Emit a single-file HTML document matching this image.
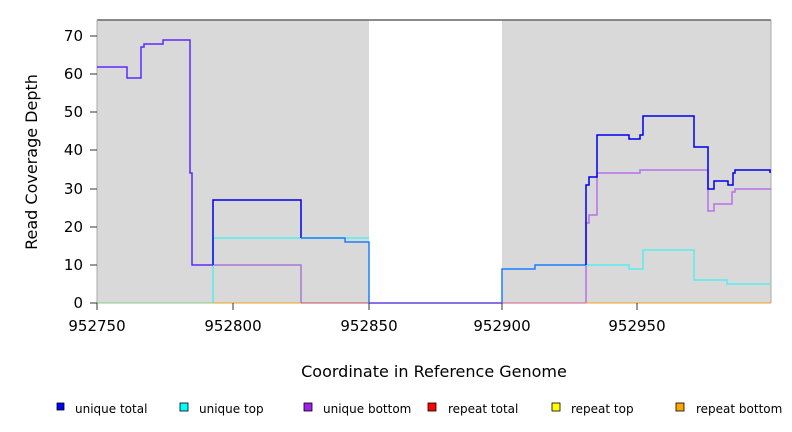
<!DOCTYPE html>
<html><head><meta charset="utf-8"><style>body{margin:0;background:#fff}svg{display:block;font-family:"DejaVu Sans","Liberation Sans",sans-serif}</style></head><body>
<svg width="792" height="432" viewBox="0 0 792 432">
<rect x="97" y="20" width="272" height="283" fill="#d9d9d9"/>
<rect x="502" y="20" width="269" height="283" fill="#d9d9d9"/>
<line x1="97" y1="20" x2="771" y2="20" stroke="#666" stroke-width="1.5"/>
<line x1="771" y1="20" x2="771" y2="303" stroke="#aaa" stroke-width="1"/>
<line x1="97" y1="20" x2="97" y2="303" stroke="#aaa" stroke-width="1"/>
<g fill="none" stroke-width="1.5">
<polyline stroke="#b870ee" points="586,303 586,223 589,223 589,215 597,215 597,173 640,173 640,170 708,170 708,211 714,211 714,204 732,204 732,192 735,192 735,189 771,189"/>
<polyline stroke="#a878d8" points="213,265 301,265 301,303"/>
<polyline stroke="#55eeee" points="213,303 213,238 369,238"/>
<polyline stroke="#55eeee" points="586,265 629,265 629,269 643,269 643,250 694,250 694,280 727,280 727,284 771,284"/>
<polyline stroke="#0000ee" points="213,265 213,200 301,200 301,238"/>
<polyline stroke="#1a7fff" points="301,238 345,238 345,242 369,242 369,303"/>
<polyline stroke="#1a7fff" points="502,303 502,269 535,269 535,265 586,265"/>
<polyline stroke="#0000ee" points="586,265 586,185 589,185 589,177 597,177 597,135 629,135 629,139 640,139 640,135 643,135 643,116 694,116 694,147 708,147 708,189 714,189 714,181 728,181 728,185 733,185 733,173 735,173 735,170 770,170 770,173"/>
<polyline stroke="#5a2aff" points="97,67 127,67 127,78 141,78 141,47 144,47 144,44 163,44 163,40 190,40 190,173 192,173 192,265 213,265"/>
<line x1="369" y1="303" x2="502" y2="303" stroke="#6040e0"/>
<line x1="97" y1="303" x2="213" y2="303" stroke="#88cc88" stroke-width="1"/>
<line x1="213" y1="303" x2="301" y2="303" stroke="#f0a020" stroke-width="1"/>
<line x1="301" y1="303" x2="369" y2="303" stroke="#c05060" stroke-width="1"/>
<line x1="502" y1="303" x2="586" y2="303" stroke="#d06080" stroke-width="1"/>
<line x1="586" y1="303" x2="771" y2="303" stroke="#f0a020" stroke-width="1"/>
</g>
<g stroke="#333" stroke-width="1">
<line x1="90" y1="303" x2="97" y2="303"/><line x1="90" y1="265" x2="97" y2="265"/><line x1="90" y1="227" x2="97" y2="227"/><line x1="90" y1="189" x2="97" y2="189"/><line x1="90" y1="150" x2="97" y2="150"/><line x1="90" y1="112" x2="97" y2="112"/><line x1="90" y1="74" x2="97" y2="74"/><line x1="90" y1="36" x2="97" y2="36"/>
<line x1="97" y1="303" x2="97" y2="310"/><line x1="233" y1="303" x2="233" y2="310"/><line x1="369" y1="303" x2="369" y2="310"/><line x1="502" y1="303" x2="502" y2="310"/><line x1="637" y1="303" x2="637" y2="310"/>
</g>
<g font-size="15" fill="#000" text-anchor="end">
<text x="83" y="308">0</text><text x="83" y="270">10</text><text x="83" y="232">20</text><text x="83" y="194">30</text><text x="83" y="155">40</text><text x="83" y="117">50</text><text x="83" y="79">60</text><text x="83" y="41">70</text>
</g>
<g font-size="15" fill="#000" text-anchor="middle">
<text x="97" y="331">952750</text><text x="233" y="331">952800</text><text x="369" y="331">952850</text><text x="502" y="331">952900</text><text x="637" y="331">952950</text>
</g>
<g font-size="16" fill="#000" text-anchor="middle">
<text x="434" y="377">Coordinate in Reference Genome</text>
<text transform="translate(37,162) rotate(-90)">Read Coverage Depth</text>
</g>
<g font-size="12" fill="#000" stroke="#000" stroke-width="0.8">
<rect x="57" y="403" width="7" height="7" fill="#0000ff"/>
<rect x="180" y="403" width="8" height="8" fill="#00ffff"/>
<rect x="304" y="403" width="8" height="8" fill="#a020f0"/>
<rect x="428" y="403" width="8" height="8" fill="#ff0000"/>
<rect x="552" y="403" width="8" height="8" fill="#ffff00"/>
<rect x="676" y="403" width="8" height="8" fill="#ffa500"/>
</g>
<g font-size="12" fill="#000">
<text x="75" y="413">unique total</text><text x="199" y="413">unique top</text><text x="323" y="413">unique bottom</text><text x="448" y="413">repeat total</text><text x="571" y="413">repeat top</text><text x="696" y="413">repeat bottom</text>
</g>
</svg>
</body></html>
